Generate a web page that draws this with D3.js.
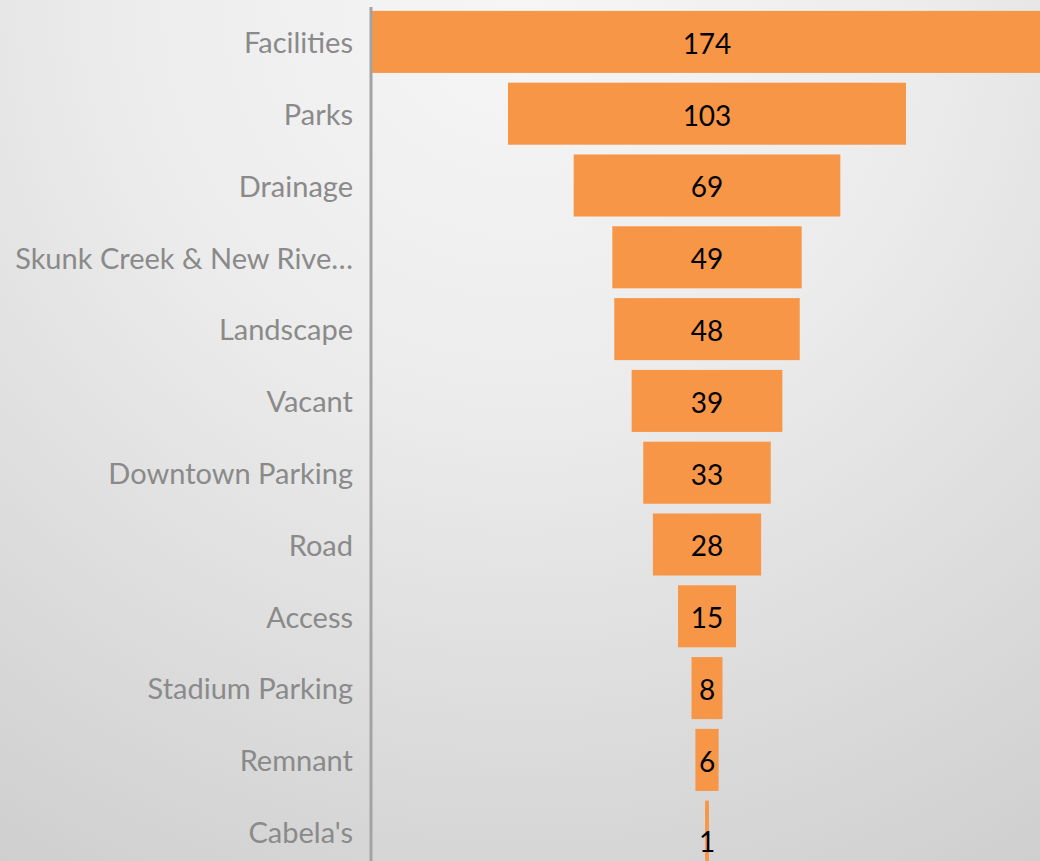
<!DOCTYPE html>
<html>
<head>
<meta charset="utf-8">
<script src="https://cdn.jsdelivr.net/npm/d3@7"></script>
<style>
  html, body { margin: 0; padding: 0; overflow: hidden; }
  body { width: 1040px; height: 861px; }
  svg { display: block; }
</style>
</head>
<body>
<div id="chart"></div>
<script>
// funnel data, top to bottom
const categories = ['Facilities', 'Parks', 'Drainage', 'Skunk Creek & New Rive…', 'Landscape', 'Vacant',
  'Downtown Parking', 'Road', 'Access', 'Stadium Parking', 'Remnant', "Cabela's"];
const values = [174, 103, 69, 49, 48, 39, 33, 28, 15, 8, 6, 1];

const W = 1040, H = 861;
const AXIS_X = 371, CENTER_X = 707;

const data = categories.map((c, i) => ({ cat: c, value: values[i] }));

const svg = d3.select('#chart').append('svg')
  .attr('width', W).attr('height', H);

const defs = svg.append('defs');
const grad = defs.append('radialGradient')
  .attr('id', 'bg').attr('gradientUnits', 'userSpaceOnUse')
  .attr('cx', 520).attr('cy', 0).attr('r', 1000);
grad.append('stop').attr('offset', '0%').attr('stop-color', '#f6f6f6');
grad.append('stop').attr('offset', '40%').attr('stop-color', '#ececec');
grad.append('stop').attr('offset', '100%').attr('stop-color', '#cfcfcf');

svg.append('rect').attr('width', W).attr('height', H).attr('fill', 'url(#bg)');

const maxV = d3.max(values);
const pxPerUnit = 3.864;
const x = d3.scaleLinear()
  .domain([-maxV / 2, maxV / 2])
  .range([CENTER_X - maxV / 2 * pxPerUnit, CENTER_X + maxV / 2 * pxPerUnit]);

const y = d3.scaleBand()
  .domain(categories)
  .range([6, 6 + categories.length * 71.8])
  .paddingInner(0.136)
  .paddingOuter(0.068);

// bars
svg.append('g').selectAll('rect')
  .data(data)
  .join('rect')
    .attr('x', d => x(-d.value / 2))
    .attr('y', d => y(d.cat))
    .attr('width', d => x(d.value / 2) - x(-d.value / 2))
    .attr('height', y.bandwidth())
    .attr('fill', '#f79646');

// value labels
svg.append('g').selectAll('text')
  .data(data)
  .join('text')
    .attr('x', CENTER_X)
    .attr('y', d => y(d.cat) + y.bandwidth() / 2 + 2 + (d.value < 3 ? 8 : 0))
    .attr('dy', '0.35em')
    .attr('text-anchor', 'middle')
    .style('font-family', 'Lato, "Open Sans", sans-serif')
    .style('font-size', '28px')
    .attr('fill', '#000')
    .text(d => d.value);

// category axis
const axis = svg.append('g')
  .attr('transform', `translate(${AXIS_X},2)`)
  .call(d3.axisLeft(y).tickSize(0).tickPadding(18));
axis.select('.domain').attr('stroke', '#a3a3a3').attr('stroke-width', 3)
  .attr('d', `M0,5V${H}`);
axis.selectAll('text')
  .style('font-family', 'Lato, "Open Sans", sans-serif')
  .style('font-size', '29px')
  .attr('fill', '#8a8a8a');
</script>
</body>
</html>
